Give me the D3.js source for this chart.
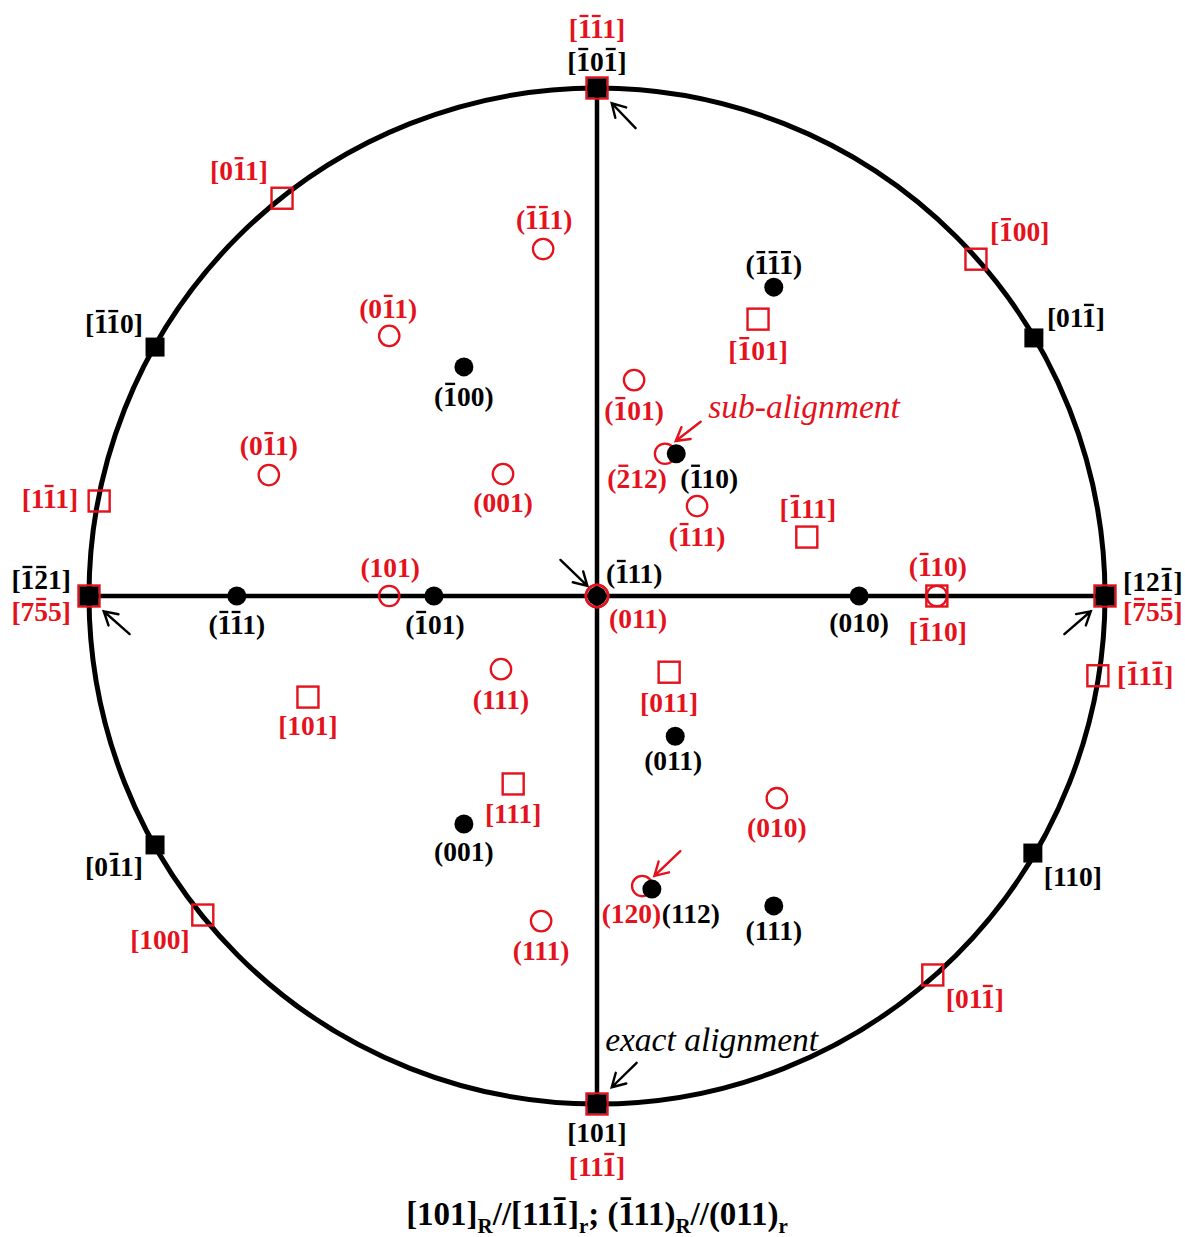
<!DOCTYPE html>
<html>
<head>
<meta charset="utf-8">
<script src="https://cdn.jsdelivr.net/npm/d3@7/dist/d3.min.js"></script>
<style>
  html, body { margin: 0; padding: 0; background: #fff; }
  svg { display: block; }
  text { font-family: "Liberation Serif", "Times New Roman", serif; }
</style>
</head>
<body>
<svg id="chart" width="1185" height="1237"></svg>
<script>
// Stereographic projection: matrix (R, black) and precipitate (r, red) poles.
// Coordinates are in projection units (primitive circle radius = 1).
// A "-" in a label puts an overbar on the following digit.

// Matrix directions (filled black squares)
const matrixDirections = [
  { id: "Rtop",   label: "[-10-1]", x: 0,      y: 1 },
  { id: "Rn1n10", label: "[-1-10]", x: -0.870, y: 0.490 },
  { id: "R011n",  label: "[01-1]",  x: 0.860,  y: 0.508 },
  { id: "Rleft",  label: "[-1-21]", x: -1,     y: 0 },
  { id: "Rright", label: "[12-1]",  x: 1,      y: 0 },
  { id: "R0n11",  label: "[0-11]",  x: -0.870, y: -0.490 },
  { id: "R110",   label: "[110]",   x: 0.858,  y: -0.506 },
  { id: "Rbot",   label: "[101]",   x: 0,      y: -1 }
];

// Matrix plane normals (filled black dots)
const matrixPlanes = [
  { id: "Pn1n1n1", label: "(-1-1-1)", x: 0.348,  y: 0.608 },
  { id: "Pn100",   label: "(-100)",   x: -0.262, y: 0.451 },
  { id: "Pn110",   label: "(-110)",   x: 0.156,  y: 0.280 },
  { id: "Pn1n11",  label: "(-1-11)",  x: -0.709, y: 0 },
  { id: "Pn101",   label: "(-101)",   x: -0.321, y: 0 },
  { id: "Pn111",   label: "(-111)",   x: 0,      y: 0 },
  { id: "P010",    label: "(010)",    x: 0.516,  y: 0 },
  { id: "P011",    label: "(011)",    x: 0.154,  y: -0.276 },
  { id: "P001",    label: "(001)",    x: -0.262, y: -0.449 },
  { id: "P112",    label: "(112)",    x: 0.108,  y: -0.577 },
  { id: "P111",    label: "(111)",    x: 0.348,  y: -0.610 }
];

// Precipitate directions (open red squares)
const precipDirections = [
  { id: "rtop",   label: "[-1-11]", x: 0,      y: 1 },
  { id: "rleft",  label: "[7-55]",  x: -1,     y: 0 },
  { id: "rright", label: "[-75-5]", x: 1,      y: 0 },
  { id: "rbot",   label: "[11-1]",  x: 0,      y: -1 },
  { id: "r0n11",  label: "[0-11]",  x: -0.620, y: 0.783 },
  { id: "rn100",  label: "[-100]",  x: 0.746,  y: 0.663 },
  { id: "r1n11",  label: "[1-11]",  x: -0.980, y: 0.187 },
  { id: "rn11n1", label: "[-11-1]", x: 0.986,  y: -0.157 },
  { id: "r100",   label: "[100]",   x: -0.776, y: -0.628 },
  { id: "r011n",  label: "[01-1]",  x: 0.661,  y: -0.746 },
  { id: "rn101",  label: "[-101]",  x: 0.317,  y: 0.545 },
  { id: "rn111",  label: "[-111]",  x: 0.413,  y: 0.116 },
  { id: "rn110",  label: "[-110]",  x: 0.669,  y: 0 },
  { id: "r011",   label: "[011]",   x: 0.142,  y: -0.150 },
  { id: "r101",   label: "[101]",   x: -0.569, y: -0.199 },
  { id: "r111",   label: "[111]",   x: -0.165, y: -0.370 }
];

// Precipitate plane normals (open red circles)
const precipPlanes = [
  { id: "qn1n11", label: "(-1-11)", x: -0.106, y: 0.683 },
  { id: "q0n11a", label: "(0-11)",  x: -0.409, y: 0.512 },
  { id: "q0n11b", label: "(0-11)",  x: -0.646, y: 0.238 },
  { id: "q001",   label: "(001)",   x: -0.185, y: 0.240 },
  { id: "qn101",  label: "(-101)",  x: 0.073,  y: 0.425 },
  { id: "qn212",  label: "(-212)",  x: 0.134,  y: 0.280 },
  { id: "qn111",  label: "(-111)",  x: 0.197,  y: 0.177 },
  { id: "q101",   label: "(101)",   x: -0.409, y: 0 },
  { id: "q011",   label: "(011)",   x: 0,      y: 0 },
  { id: "qn110",  label: "(-110)",  x: 0.669,  y: 0 },
  { id: "q111a",  label: "(111)",   x: -0.189, y: -0.144 },
  { id: "q010",   label: "(010)",   x: 0.354,  y: -0.398 },
  { id: "q120",   label: "(120)",   x: 0.089,  y: -0.571 },
  { id: "q111b",  label: "(111)",   x: -0.110, y: -0.640 }
];

// Alignment arrows: tail -> head, in projection units
const alignArrows = [
  { kind: "exact", x1: 0.076,  y1: 0.921,  x2: 0.029,  y2: 0.970 },
  { kind: "exact", x1: -0.072, y1: 0.071,  x2: -0.019, y2: 0.020 },
  { kind: "exact", x1: -0.920, y1: -0.075, x2: -0.971, y2: -0.030 },
  { kind: "exact", x1: 0.920,  y1: -0.075, x2: 0.972,  y2: -0.030 },
  { kind: "exact", x1: 0.078,  y1: -0.919, x2: 0.029,  y2: -0.967 },
  { kind: "sub",   x1: 0.204,  y1: 0.343,  x2: 0.155,  y2: 0.305 },
  { kind: "sub",   x1: 0.164,  y1: -0.502, x2: 0.113,  y2: -0.551 }
];

const notes = [
  { kind: "sub",   text: "sub-alignment",   x: 0.219, y: 0.350 },
  { kind: "exact", text: "exact alignment", x: 0.016, y: -0.896 }
];

// Orientation relationship caption (sub: subscript segment)
const caption = [
  { t: "[101]" }, { t: "R", sub: true }, { t: "//[11-1]" }, { t: "r", sub: true },
  { t: "; (-111)" }, { t: "R", sub: true }, { t: "//(011)" }, { t: "r", sub: true }
];

// Label placement relative to each mark: [text-anchor, dx, baseline dy] in px
const labelLayout = {
  Rtop: ["middle", 0, -17], Rn1n10: ["end", -12, -14], R011n: ["start", 13, -11],
  Rleft: ["end", -18, -7], Rright: ["start", 18, -5], R0n11: ["end", -12, 31],
  R110: ["start", 11, 33], Rbot: ["middle", 0, 38],
  Pn1n1n1: ["middle", 0, -13], Pn100: ["middle", 0, 39], Pn110: ["start", 4, 34],
  Pn1n11: ["middle", 0, 38], Pn101: ["middle", 1, 38], Pn111: ["start", 9, -13],
  P010: ["middle", 0, 36], P011: ["middle", -2, 34], P001: ["middle", 0, 37],
  P112: ["start", 10, 34], P111: ["middle", 0, 34],
  rtop: ["middle", 0, -50], rleft: ["end", -18, 25], rright: ["start", 18, 25],
  rbot: ["middle", 0, 72], r0n11: ["end", -14, -18], rn100: ["start", 14, -18],
  r1n11: ["end", -21, 7], rn11n1: ["start", 19, 9], r100: ["end", -13, 34],
  r011n: ["start", 13, 33], rn101: ["middle", 0, 41], rn111: ["middle", 1, -19],
  rn110: ["middle", 1, 45], r011: ["middle", 0, 40], r101: ["middle", 0, 38],
  r111: ["middle", 0, 39],
  qn1n11: ["middle", 1, -20], q0n11a: ["middle", -1, -18], q0n11b: ["middle", 0, -20],
  q001: ["middle", 0, 38], qn101: ["middle", 0, 40], qn212: ["middle", -28, 34],
  qn111: ["middle", 0, 40], q101: ["middle", 1, -19], q011: ["start", 12, 32],
  qn110: ["middle", 1, -20], q111a: ["middle", 0, 40], q010: ["middle", 0, 39],
  q120: ["end", 19, 37], q111b: ["middle", 0, 39]
};

const RED = "#e3121c";
const BLACK = "#000";
const cx = 597, cy = 596, R = 508;
const LABEL_SIZE = 27.5;

const svg = d3.select("#chart");
const x = d3.scaleLinear().domain([-1, 1]).range([cx - R, cx + R]);
const y = d3.scaleLinear().domain([-1, 1]).range([cy + R, cy - R]);

// Parse "-" overbar markers into plain text + barred character indices
function parseBars(str, offset) {
  let out = "", bars = [];
  for (let i = 0; i < str.length; i++) {
    if (str[i] === "-" && /[0-9]/.test(str[i + 1] || "")) {
      bars.push(out.length + offset);
      continue;
    }
    out += str[i];
  }
  return { text: out, bars };
}

function drawBars(g, textNode, bars, baseline, size, color) {
  bars.forEach(i => {
    const e = textNode.getExtentOfChar(i);
    const by = baseline - 0.8 * size;
    g.append("line")
      .attr("x1", e.x + e.width * 0.14).attr("x2", e.x + e.width * 0.86)
      .attr("y1", by).attr("y2", by)
      .attr("stroke", color).attr("stroke-width", size * 0.085);
  });
}

function label(g, d, color) {
  const [anchor, dx, dy] = labelLayout[d.id];
  const p = parseBars(d.label, 0);
  const bx = x(d.x) + dx, by = y(d.y) + dy;
  const t = g.append("text")
    .attr("x", bx).attr("y", by)
    .attr("text-anchor", anchor)
    .attr("font-size", LABEL_SIZE).attr("font-weight", "bold")
    .attr("fill", color).text(p.text);
  drawBars(g, t.node(), p.bars, by, LABEL_SIZE, color);
}

// Primitive circle and the two traces through the centre
const frame = svg.append("g");
frame.append("circle").attr("cx", x(0)).attr("cy", y(0)).attr("r", x(1) - x(0))
  .attr("fill", "none").attr("stroke", BLACK).attr("stroke-width", 5);
frame.append("line").attr("x1", x(-1)).attr("x2", x(1)).attr("y1", y(0)).attr("y2", y(0))
  .attr("stroke", BLACK).attr("stroke-width", 4.5);
frame.append("line").attr("x1", x(0)).attr("x2", x(0)).attr("y1", y(1)).attr("y2", y(-1))
  .attr("stroke", BLACK).attr("stroke-width", 4.5);

const marks = svg.append("g");
const labels = svg.append("g");

// Precipitate directions: open red squares
const SQ = 21;
marks.selectAll(".rdir").data(precipDirections).join("rect")
  .attr("x", d => x(d.x) - SQ / 2).attr("y", d => y(d.y) - SQ / 2)
  .attr("width", SQ).attr("height", SQ)
  .attr("fill", "none")
  .attr("stroke", RED).attr("stroke-width", 2.4);

// Matrix directions: filled black squares
const BSQ = 19;
marks.selectAll(".Rdir").data(matrixDirections).join("rect")
  .attr("x", d => x(d.x) - BSQ / 2).attr("y", d => y(d.y) - BSQ / 2)
  .attr("width", BSQ).attr("height", BSQ).attr("fill", BLACK);

// Precipitate planes: open red circles
marks.selectAll(".rpl").data(precipPlanes).join("circle")
  .attr("cx", d => x(d.x)).attr("cy", d => y(d.y))
  .attr("r", d => d.id === "q011" ? 11.2 : 10.2)
  .attr("fill", "none").attr("stroke", RED).attr("stroke-width", 2.3);

// Matrix planes: filled black dots
marks.selectAll(".Rpl").data(matrixPlanes).join("circle")
  .attr("cx", d => x(d.x)).attr("cy", d => y(d.y))
  .attr("r", 9.5).attr("fill", BLACK);

// Red ring over the coincident centre pole
marks.append("circle").attr("cx", x(0)).attr("cy", y(0)).attr("r", 11.2)
  .attr("fill", "none").attr("stroke", RED).attr("stroke-width", 2.5);

matrixDirections.forEach(d => label(labels, d, BLACK));
matrixPlanes.forEach(d => label(labels, d, BLACK));
precipDirections.forEach(d => label(labels, d, RED));
precipPlanes.forEach(d => label(labels, d, RED));

// Alignment arrows with open heads
const arrows = svg.append("g").attr("fill", "none").attr("stroke-linecap", "round");
alignArrows.forEach(a => {
  const col = a.kind === "sub" ? RED : BLACK;
  const x1 = x(a.x1), y1 = y(a.y1), x2 = x(a.x2), y2 = y(a.y2);
  const ang = Math.atan2(y2 - y1, x2 - x1);
  const hl = 15, spread = Math.PI / 6;
  const h1 = [x2 - hl * Math.cos(ang - spread), y2 - hl * Math.sin(ang - spread)];
  const h2 = [x2 - hl * Math.cos(ang + spread), y2 - hl * Math.sin(ang + spread)];
  arrows.append("path")
    .attr("d", `M${x1},${y1}L${x2},${y2}M${h1[0]},${h1[1]}L${x2},${y2}L${h2[0]},${h2[1]}`)
    .attr("stroke", col).attr("stroke-width", 2.4);
});

// Italic notes
notes.forEach(n => {
  svg.append("text")
    .attr("x", x(n.x)).attr("y", y(n.y))
    .attr("font-size", 33.5).attr("font-style", "italic")
    .attr("fill", n.kind === "sub" ? RED : BLACK)
    .text(n.text);
});

// Caption with subscripts
const CAP = 33, SUB = 21;
const capY = 1225;
const cap = svg.append("g");
const capText = cap.append("text")
  .attr("x", cx).attr("y", capY).attr("text-anchor", "middle")
  .attr("font-weight", "bold").attr("font-size", CAP).attr("fill", BLACK);
let capBars = [], len = 0, shifted = false;
caption.forEach(seg => {
  const p = parseBars(seg.t, len);
  const ts = capText.append("tspan").text(p.text);
  if (seg.sub) { ts.attr("font-size", SUB).attr("dy", 8); shifted = true; }
  else if (shifted) { ts.attr("dy", -8); shifted = false; }
  capBars = capBars.concat(p.bars);
  len += p.text.length;
});
drawBars(cap, capText.node(), capBars, capY, CAP, BLACK);
</script>
</body>
</html>
